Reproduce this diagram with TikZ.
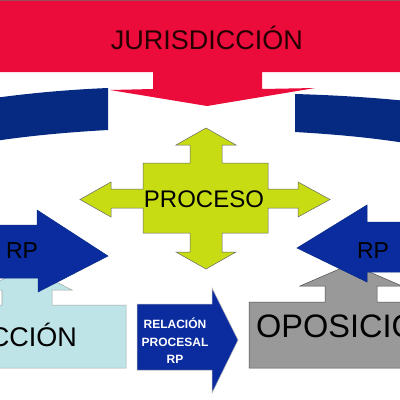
\documentclass[tikz,border=0pt]{standalone}
\usepackage{fontspec}
\setmainfont{Liberation Sans}
\definecolor{jred}{HTML}{EC0C3C}
\definecolor{jredline}{HTML}{9A4A5A}
\definecolor{navy}{HTML}{062A82}
\definecolor{rpblue}{HTML}{0A2C9E}
\definecolor{pgreen}{HTML}{C8DC14}
\definecolor{lblue}{HTML}{BEE4E8}
\definecolor{gbox}{HTML}{999999}
\tikzset{
  shapeline/.style={line width=0.5pt, line join=miter},
  lbl/.style={inner sep=0pt, text=black},
}
\begin{document}
\begin{tikzpicture}[x=1pt,y=-1pt]
\useasboundingbox (0,0) rectangle (400,400);
\clip (0,0) rectangle (400,400);
\fill[white] (0,0) rectangle (400,400);
% red banner with down arrow
\fill[jred] (-2,0) -- (402,0) -- (402,72) -- (262,72) -- (262,89) -- (315,88) -- (207,106) -- (110,90) -- (153,89) -- (153,72) -- (-2,72) -- cycle;
\draw[jredline, line width=1.2pt] (0,0.6) -- (400,0.6);
% blue arcs
\fill[navy] (-2,97.5) .. controls (36,92.5) and (72,89.5) .. (108,88) -- (108,130) .. controls (72,132) and (36,135) .. (-2,140.5) -- cycle;
\fill[navy] (295,94) .. controls (330,95) and (366,97) .. (402,100.5) -- (402,142.5) .. controls (366,137) and (330,134) .. (295,132) -- cycle;
% green cross
\draw[shapeline, draw=gray!80!black, fill=pgreen]
 (206,128) -- (236,145) -- (222,145) -- (222,163) -- (268,163) -- (268,189) -- (298,189) -- (298,182) -- (330,199.5) -- (298,217) -- (298,208) -- (268,208) -- (268,233) -- (222,233) -- (222,252) -- (236,252) -- (206,269) -- (176,252) -- (190,252) -- (190,233) -- (143,233) -- (143,208) -- (111,208) -- (111,217) -- (80,199.5) -- (111,182) -- (111,189) -- (143,189) -- (143,163) -- (190,163) -- (190,145) -- (176,145) -- cycle;
\node[lbl, font=\fontsize{24}{24}\selectfont] (proceso) at (204,199.5) {PROCESO};
% light blue callout
\draw[shapeline, draw=gray!70, fill=lblue]
 (-20,305) -- (2,305) -- (2,290) -- (-18,290) -- (27,267) -- (72,290) -- (52,290) -- (52,305) -- (126,305) -- (126,368) -- (-20,368) -- cycle;
\node[lbl, anchor=east, font=\fontsize{27}{27}\selectfont] (accion) at (77,335) {ACCIÓN};
% gray callout
\draw[shapeline, draw=gray!60!black, fill=gbox]
 (249,302) -- (325,302) -- (325,286) -- (300,286) -- (351,264) -- (402,286) -- (377,286) -- (377,302) -- (420,302) -- (420,368) -- (249,368) -- cycle;
\node[lbl, anchor=west, font=\fontsize{32.5}{32.5}\selectfont] (oposicion) at (256,323.5) {OPOSICIÓN};
% RP arrows
\draw[shapeline, draw=navy, fill=rpblue]
 (-5,225) -- (37,225) -- (37,210) -- (108,256) -- (38,292) -- (38,278) -- (-5,278) -- cycle;
\node[lbl, font=\fontsize{23}{23}\selectfont] (rpl) at (22,251) {RP};
\draw[shapeline, draw=navy, fill=rpblue]
 (405,222) -- (367,222) -- (367,205) -- (297,248) -- (367,282) -- (367,272) -- (405,272) -- cycle;
\node[lbl, font=\fontsize{23}{23}\selectfont] (rpr) at (373,251) {RP};
% relacion procesal arrow
\draw[shapeline, draw=gray!60, fill=rpblue]
 (137,304) -- (212,304) -- (212,288) -- (238,340) -- (212,393) -- (212,370) -- (137,370) -- cycle;
\node[lbl, text=white, align=center, font=\bfseries\fontsize{12}{17.5}\selectfont] (rel) at (175,341) {RELACIÓN\\PROCESAL\\RP};
% title
\node[lbl, font=\fontsize{27}{27}\selectfont, text=black!85!red] (juris) at (207,38) {JURISDICCIÓN};
\end{tikzpicture}
\end{document}
